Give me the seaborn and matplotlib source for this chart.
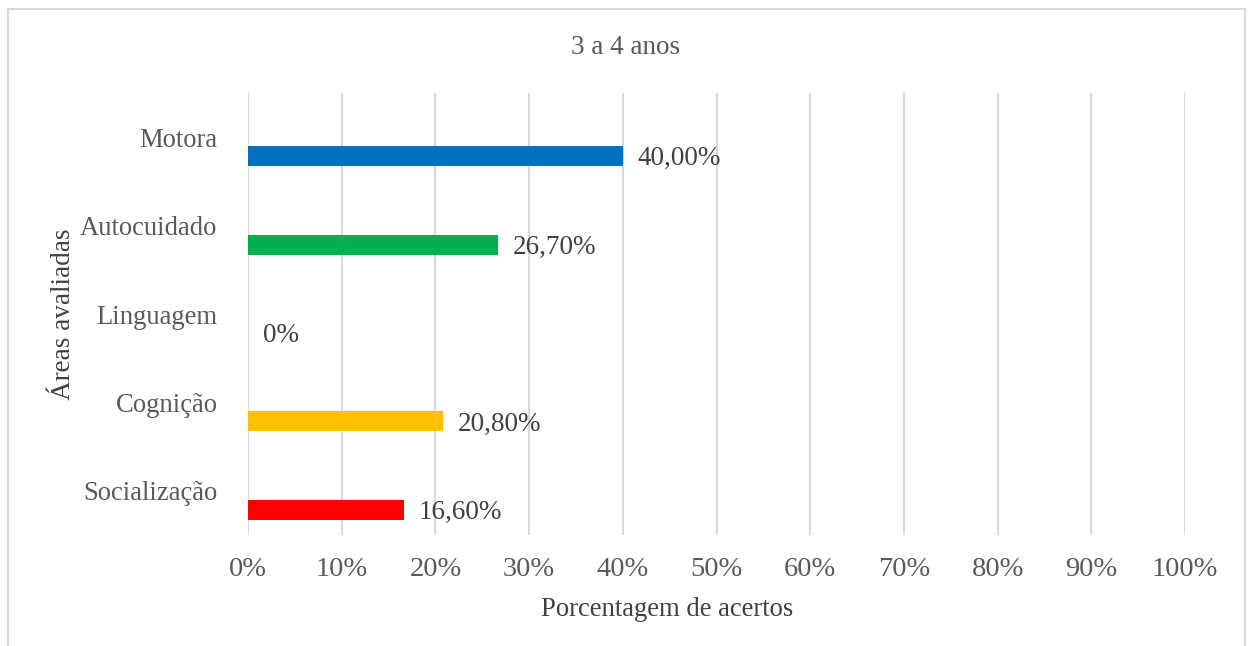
import matplotlib
matplotlib.use("Agg")
import matplotlib.pyplot as plt
from matplotlib.patches import Rectangle
import seaborn as sns
import pandas as pd

categories = ["Motora", "Autocuidado", "Linguagem", "Cognição", "Socialização"]
values = [40.0, 26.7, 0.0, 20.8, 16.6]
value_labels = ["40,00%", "26,70%", "0%", "20,80%", "16,60%"]
colors = ["#0070C0", "#00B050", "#A5A5A5", "#FFC000", "#FF0000"]
x_ticks = [0, 10, 20, 30, 40, 50, 60, 70, 80, 90, 100]
x_tick_labels = [f"{t}%" for t in x_ticks]
title = "3 a 4 anos"
x_label = "Porcentagem de acertos"
y_label = "Áreas avaliadas"

sns.set_theme(style="white")
plt.rcParams["font.family"] = ["Liberation Serif", "DejaVu Serif"]

df = pd.DataFrame({"area": categories, "valor": values})

fig = plt.figure(figsize=(12.51, 6.46), dpi=100)
ax = fig.add_axes([248 / 1251, 1 - 535 / 646, (1185 - 248) / 1251, (535 - 93) / 646])

sns.barplot(data=df, y="area", x="valor", hue="area", palette=colors,
            order=categories, hue_order=categories, width=0.226,
            legend=False, ax=ax, saturation=1, linewidth=0)

# offset bars below the category label (Excel clustered look)
offset = 0.215
for p in ax.patches:
    p.set_y(p.get_y() + offset)

ax.set_xlim(0, 100)
ax.set_ylim(len(categories) - 0.5, -0.5)
ax.set_xticks(x_ticks)
ax.set_xticklabels(x_tick_labels)
ax.tick_params(axis="y", length=0, labelsize=19.2, colors="#595959", pad=22)
ax.tick_params(axis="x", length=0, labelsize=20.5, colors="#595959", pad=16)
for s in ax.spines.values():
    s.set_visible(False)
ax.grid(axis="x", color="#D9D9D9", linewidth=1.5)
ax.grid(axis="y", visible=False)
ax.set_axisbelow(True)

for i, (v, lab) in enumerate(zip(values, value_labels)):
    ax.text(v + 1.6, i + offset + 0.03, lab, va="center", ha="left",
            fontsize=19.5, color="#404040")

ax.set_xlabel("")
ax.set_ylabel("")
fig.text(667 / 1251, 1 - 609 / 646, x_label, ha="center", va="center",
         fontsize=19.2, color="#404040")
fig.text(63 / 1251, 1 - 314 / 646, y_label, rotation=90, ha="center", va="center",
         fontsize=19.5, color="#404040")
fig.text(626 / 1251, 1 - 47 / 646, title, ha="center", va="center",
         fontsize=19.5, color="#595959")

fig.patches.append(Rectangle((8 / 1251, -0.05), (1245 - 8) / 1251, 1.05 - 9 / 646,
                             transform=fig.transFigure, fill=False,
                             edgecolor="#D9D9D9", linewidth=1.5))

fig.savefig("out.png", dpi=100)
